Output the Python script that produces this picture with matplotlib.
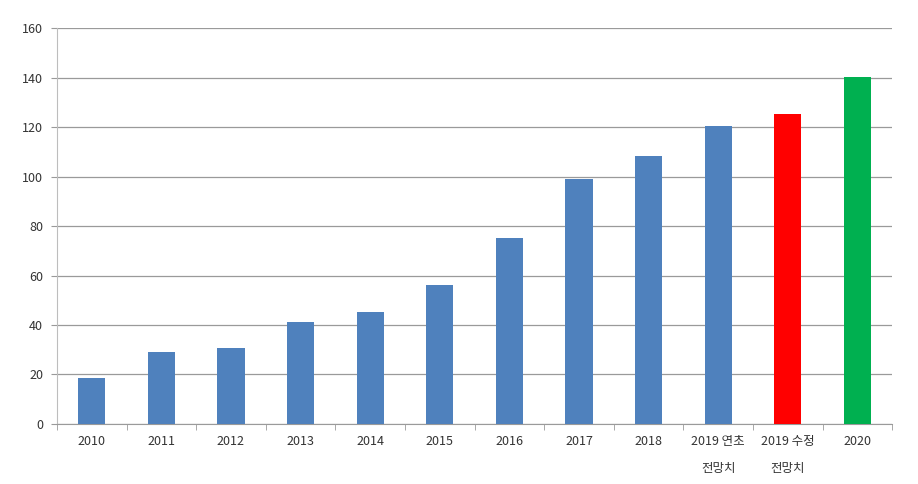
import numpy as np
import matplotlib
matplotlib.use("Agg")
import matplotlib.pyplot as plt

plt.rcParams['font.family'] = ['Noto Sans CJK KR', 'DejaVu Sans']

categories = ['2010', '2011', '2012', '2013', '2014', '2015', '2016', '2017',
              '2018', '2019 연초\n전망치', '2019 수정\n전망치', '2020']
values = [18.6, 29.1, 30.7, 41.2, 45.3, 56.2, 75.2, 99.0, 108.2, 120.3, 125.2, 140.4]
colors = ['#4F81BD'] * 10 + ['#FF0000', '#00B050']

fig = plt.figure(figsize=(9.18, 4.84), dpi=100)
ax = fig.add_axes([0.062, 0.124, 0.91, 0.818])

x = np.arange(len(categories))
ax.bar(x, values, width=0.39, color=colors, zorder=3)

ax.set_xlim(-0.5, len(categories) - 0.5)
ax.set_ylim(0, 160)
ax.set_yticks(np.arange(0, 161, 20))
ax.yaxis.grid(True, color='#9a9a9a', linewidth=0.9, zorder=0)

ax.set_xticks(x)
ax.set_xticklabels(categories, fontsize=9, linespacing=2.35, va='top', color='#333333')
ax.set_xticks(np.arange(-0.5, len(categories)), minor=True)
ax.tick_params(axis='x', which='major', length=0, pad=8)
ax.tick_params(axis='x', which='minor', length=4, color='#9a9a9a')
ax.tick_params(axis='y', length=4, color='#9a9a9a', labelsize=9, pad=6, labelcolor='#333333')

for s in ['top', 'right']:
    ax.spines[s].set_visible(False)
ax.spines['left'].set_color('#bdbdbd')
ax.spines['bottom'].set_color('#9a9a9a')

fig.savefig('out.png', dpi=100)
